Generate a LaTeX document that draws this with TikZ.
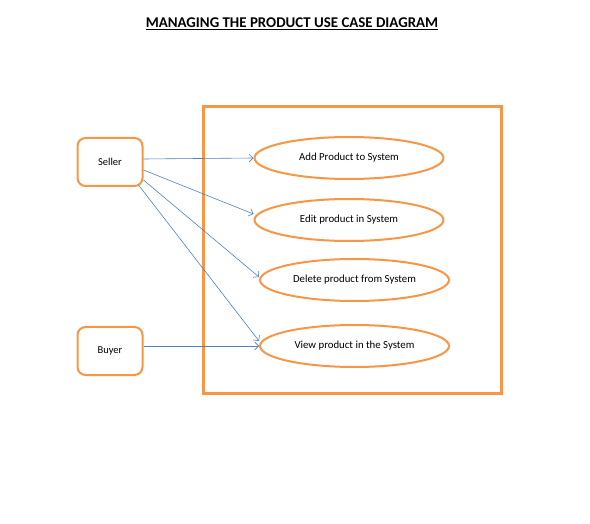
\documentclass[tikz,border=0pt]{standalone}
\usepackage{fontspec}
\setmainfont{Carlito}
\usetikzlibrary{shapes.geometric,arrows.meta}
\definecolor{orng}{HTML}{F79646}
\definecolor{blu}{HTML}{4F81BD}
\begin{document}
\begin{tikzpicture}[x=1pt,y=-1pt,
  actor/.style={draw=orng,line width=2pt,rounded corners=8pt,minimum width=65pt,minimum height=48pt,inner sep=0pt,font=\fontsize{10.5}{12}\selectfont},
  usecase/.style={draw=orng,line width=2pt,ellipse,minimum width=189pt,minimum height=42pt,inner sep=0pt,font=\fontsize{10.8}{12}\selectfont},
  arr/.style={draw=blu,line width=0.6pt,-{Straight Barb[length=4pt,width=8pt]}}]
\useasboundingbox (0,0) rectangle (590,524);
\node[font=\bfseries\fontsize{14.9}{17}\selectfont] (title) at (292,24) {\underline{MANAGING THE PRODUCT USE CASE DIAGRAM}};
\node[draw=orng,line width=2.2pt,minimum width=298pt,minimum height=287pt,inner sep=0pt] (sys) at (352.5,250) {};
\node[actor] (seller) at (110,162) {\raisebox{-3pt}{Seller}};
\node[actor] (buyer) at (110,351) {\raisebox{-2pt}{Buyer}};
\node[usecase] (add) at (349,158) {Add Product to System};
\node[usecase] (edit) at (349,220) {Edit product in System};
\node[usecase] (del) at (354.5,280) {Delete product from System};
\node[usecase] (view) at (354.5,346) {View product in the System};
\draw[arr] ([yshift=3]seller.east) -- (add.west);
\draw[arr] ([yshift=-8]seller.east) -- ([yshift=6]edit.west);
\draw[arr] ([yshift=7]seller.south east) -- ([yshift=3]del.west);
\draw[arr] ([xshift=-5,yshift=2]seller.south east) -- ([yshift=5]view.west);
\draw[arr] ([yshift=5]buyer.east) -- (view.west);
\end{tikzpicture}
\end{document}
